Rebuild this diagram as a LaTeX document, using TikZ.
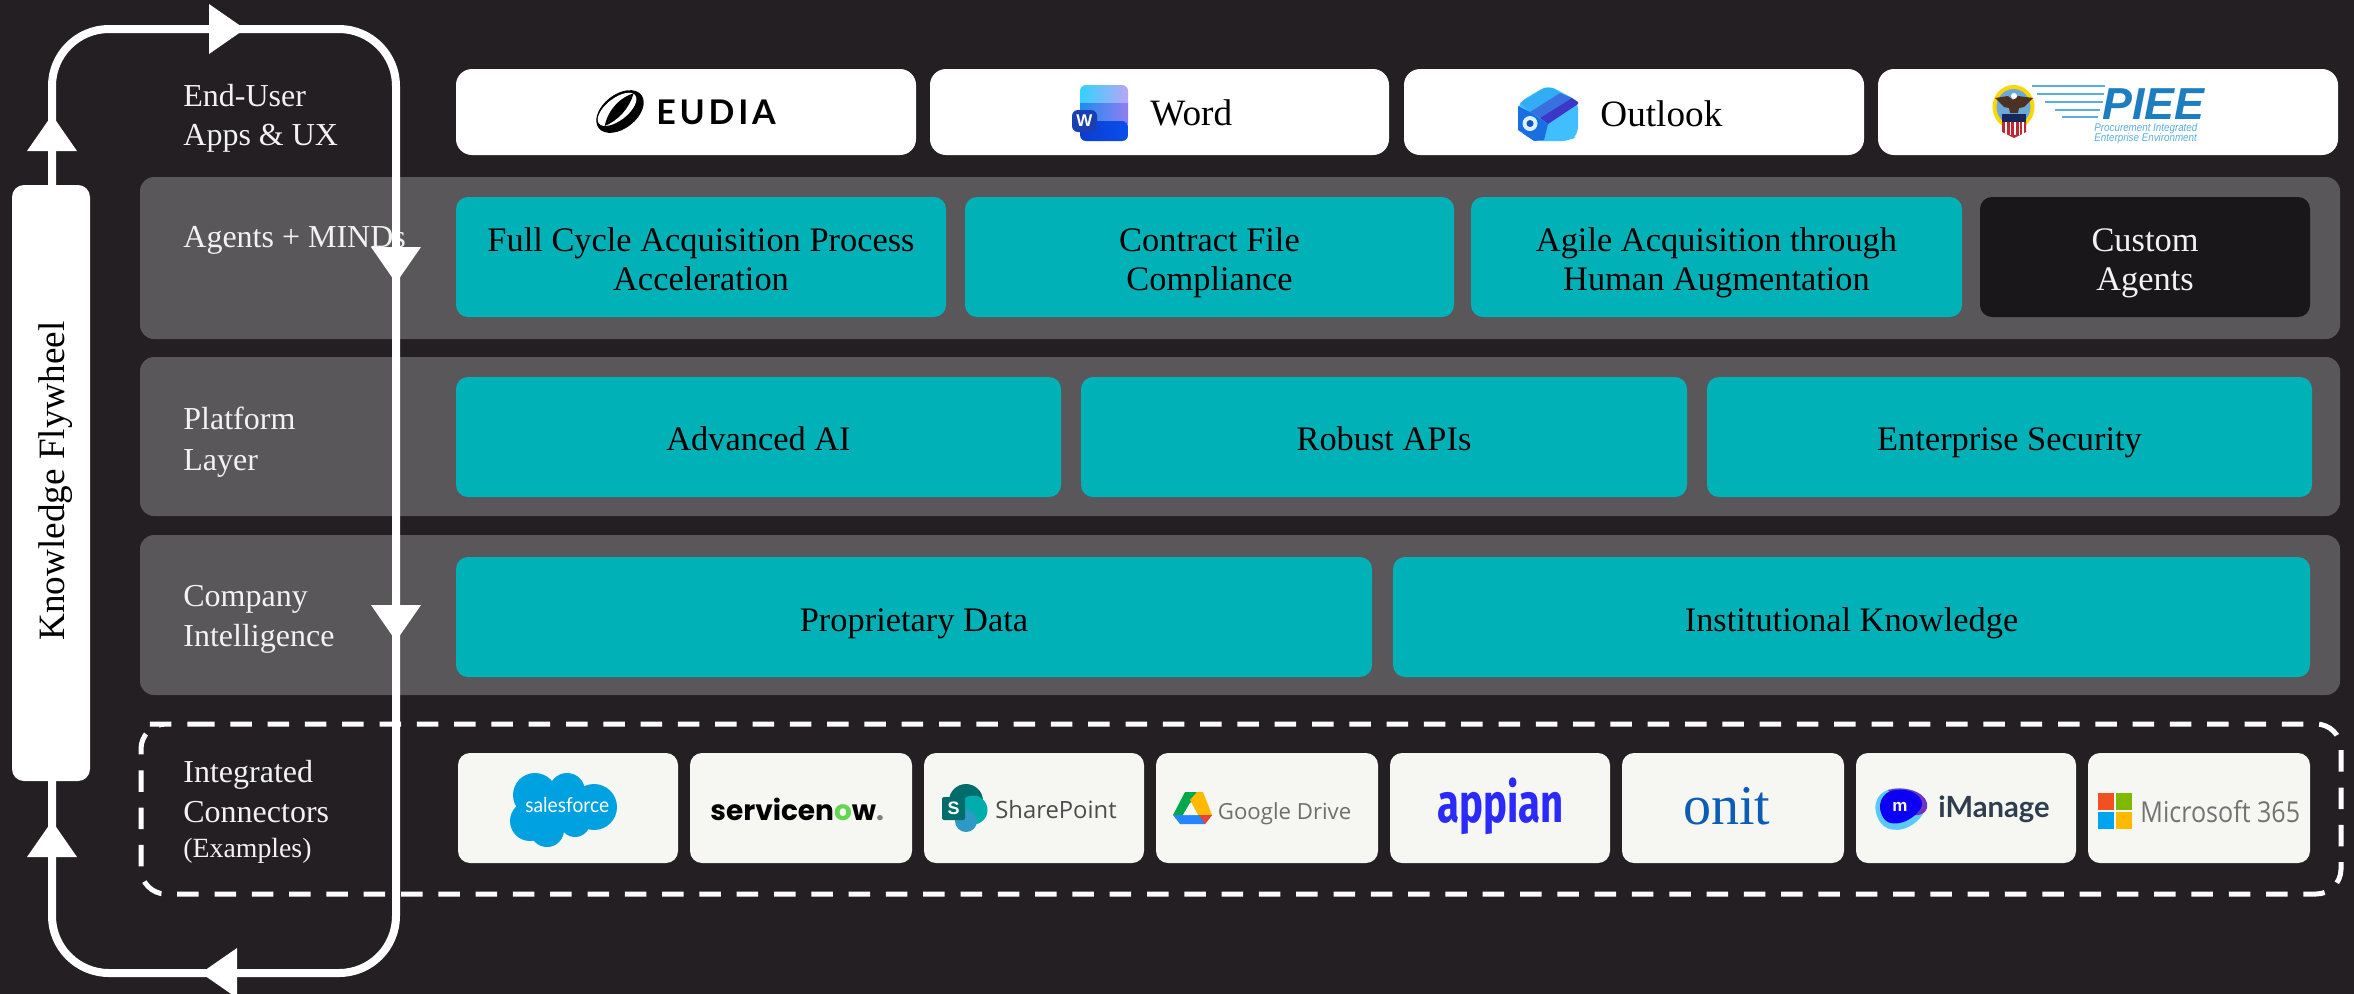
\documentclass[tikz,border=0pt]{standalone}
\usepackage{fontspec}
\setmainfont{Liberation Serif}
\newfontfamily\lsans{Liberation Sans}
\newfontfamily\pieesub[FakeStretch=.875]{Liberation Sans}
\newfontfamily\opensans{Open Sans}
\newfontfamily\msfont[FakeStretch=.87]{Open Sans}
\newfontfamily\lato{Lato}
\newfontfamily\sffont[FakeStretch=.93]{Lato}
\newfontfamily\poppins{Poppins}
\newfontfamily\appianfont[FakeStretch=.73]{Fira Sans}
\newfontfamily\eudiafont[LetterSpace=11]{Lato}
\definecolor{bgdark}{HTML}{231F22}
\definecolor{rowgray}{HTML}{59575A}
\definecolor{tealbox}{HTML}{00B2B8}
\definecolor{darkbox}{HTML}{1A171B}
\definecolor{lightbox}{HTML}{F6F7F3}
\definecolor{labelwhite}{HTML}{F2F2F2}
\definecolor{nowgreen}{HTML}{62D84E}
\definecolor{pieeblue}{HTML}{1C7DC0}
\definecolor{pieelight}{HTML}{5AAEDC}
\tikzset{
  rowbox/.style={fill=rowgray,rounded corners=7pt},
  tealcard/.style={fill=tealbox,rounded corners=6pt,text=black,font=\fontsize{17.2}{19.5}\selectfont},
  darkcard/.style={fill=darkbox,rounded corners=6pt,text=labelwhite,font=\fontsize{17.2}{19.5}\selectfont},
  appcard/.style={fill=white,rounded corners=8pt},
  conncard/.style={fill=lightbox,rounded corners=6pt},
  wheelbox/.style={fill=white,rounded corners=6pt},
  dashframe/.style={draw=white,line width=2.5pt,dash pattern=on 10.75pt off 7.9pt,rounded corners=12.5pt},
  sidelabel/.style={anchor=base west,inner sep=0,text=labelwhite,font=\fontsize{16}{19.6}\selectfont},
  applabel/.style={anchor=base west,inner sep=0,text=black,font=\fontsize{18.6}{20}\selectfont},
  logotext/.style={anchor=base west,inner sep=0},
  loopline/.style={draw=white,line width=4pt,rounded corners=28.5pt},
}
\newcommand{\bx}[7][]{%
  \pgfmathsetmacro{\bxw}{(#4-#2)*0.5}\pgfmathsetmacro{\bxh}{(#5-#3)*0.5}%
  \node[#6,shape=rectangle,inner sep=0,align=center,minimum width=\bxw pt,minimum height=\bxh pt,#1]
    (#7) at ({(#2+#4)/2},{(#3+#5)/2}) {\bxtext};}
\newcommand{\head}[3]{\fill[white,shift={(#1,#2)},rotate=#3] (0,0)--(-36,25)--(-36,-25)--cycle;}
\newcommand{\lone}[1]{\rule[-4pt]{0pt}{21pt}\smash{#1}}
\newcommand{\lonep}[1]{\rule[-4pt]{0pt}{22pt}\smash{#1}}
\newcommand{\ltwo}[1]{\rule[-3pt]{0pt}{19.5pt}\smash{#1}}
\begin{document}
\begin{tikzpicture}[x=0.5pt,y=-0.5pt]
\useasboundingbox (0,0) rectangle (2354,993);
\fill[bgdark] (-6,-6) rectangle (2360,1000);
\def\bxtext{}
% rows
\bx{140}{177}{2340}{339}{rowbox}{rowA}
\bx{140}{357}{2340}{516}{rowbox}{rowB}
\bx{140}{535}{2340}{695}{rowbox}{rowC}
\node[inner sep=0,minimum width=600pt,minimum height=85pt] (rowD) at (741,809) {};
\coordinate (dStart) at (168,724);
\coordinate (dNE) at (2341,724);
\coordinate (dSE) at (2341,894);
\coordinate (dSW) at (141,894);
\coordinate (dNW) at (141,724);
\draw[dashframe] (dStart) -- (dNE) -- (dSE) -- (dSW) -- (dNW) -- cycle;
% app cards
\bx{456}{69}{916}{155}{appcard}{appEudia}
\bx{930}{69}{1389}{155}{appcard}{appWord}
\bx{1404}{69}{1864}{155}{appcard}{appOutlook}
\bx{1878}{69}{2338}{155}{appcard}{appPiee}
% agent cards
\def\bxtext{\ltwo{Full Cycle Acquisition Process}\\\ltwo{Acceleration}}
\bx{456}{197}{946}{317}{tealcard}{cardA}
\def\bxtext{\ltwo{Contract File}\\\ltwo{Compliance}}
\bx{965}{197}{1454}{317}{tealcard}{cardB}
\def\bxtext{\ltwo{Agile Acquisition through}\\\ltwo{Human Augmentation}}
\bx{1471}{197}{1962}{317}{tealcard}{cardC}
\def\bxtext{\ltwo{Custom}\\\ltwo{Agents}}
\bx{1980}{197}{2310}{317}{darkcard}{cardD}
% platform
\def\bxtext{\lone{Advanced AI}}
\bx{456}{377}{1061}{497}{tealcard}{platA}
\def\bxtext{\lone{Robust APIs}}
\bx{1081}{377}{1687}{497}{tealcard}{platB}
\def\bxtext{\lone{Enterprise Security}}
\bx{1707}{377}{2312}{497}{tealcard}{platC}
% company
\def\bxtext{\lonep{Proprietary Data}}
\bx{456}{557}{1372}{677}{tealcard}{compA}
\def\bxtext{\lonep{Institutional Knowledge}}
\bx{1393}{557}{2310}{677}{tealcard}{compB}
% connector cards
\def\bxtext{}
\bx{458}{753}{678}{863}{conncard}{connA}
\bx{690}{753}{912}{863}{conncard}{connB}
\bx{924}{753}{1144}{863}{conncard}{connC}
\bx{1156}{753}{1378}{863}{conncard}{connD}
\bx{1390}{753}{1610}{863}{conncard}{connE}
\bx{1622}{753}{1844}{863}{conncard}{connF}
\bx{1856}{753}{2076}{863}{conncard}{connG}
\bx{2088}{753}{2310}{863}{conncard}{connH}
% side labels
\node[sidelabel] (lA1) at (183,106) {End-User};
\node[sidelabel] (lA2) at (183,145) {Apps \& UX};
\node[sidelabel] (lB) at (183,247) {Agents + MINDs};
\node[sidelabel] (lC1) at (183,429) {Platform};
\node[sidelabel] (lC2) at (183,470) {Layer};
\node[sidelabel] (lD1) at (183,606) {Company};
\node[sidelabel] (lD2) at (183,646) {Intelligence};
\node[sidelabel] (lE1) at (183,782) {Integrated};
\node[sidelabel] (lE2) at (183,822) {Connectors};
\node[sidelabel,font=\fontsize{13.9}{16}\selectfont] (lE3) at (183,857) {(Examples)};
% EUDIA logo
\begin{scope}[shift={(620,111.5)},rotate=38]
  \fill[black] (0,0) ellipse (27 and 17);
  \fill[white] (-1,-3.5) ellipse (23 and 11);
  \fill[black] (-21,2) .. controls (-8,-9) and (9,-11) .. (22,-6) .. controls (10,3) and (-7,6) .. (-21,2) -- cycle;
\end{scope}
\node[logotext,text=black,font=\eudiafont\bfseries\fontsize{17}{18}\selectfont] (tEudia) at (656,124) {EUDIA};
% Word
\shade[left color={rgb,255:red,50;green,210;blue,255},right color={rgb,255:red,185;green,165;blue,245},rounded corners=3pt] (1080,85) rectangle (1128,110);
\shade[left color={rgb,255:red,30;green,140;blue,240},right color={rgb,255:red,145;green,125;blue,240}] (1080,103) rectangle (1128,123);
\shade[left color={rgb,255:red,10;green,60;blue,210},right color={rgb,255:red,10;green,80;blue,235},rounded corners=3pt] (1080,121) rectangle (1128,141);
\fill[fill={rgb,255:red,26;green,63;blue,176},rounded corners=3pt] (1072,110) rectangle (1097,132);
\node[inner sep=0,text=white,font=\lsans\bfseries\fontsize{8.5}{10}\selectfont] (tWordW) at (1084.5,121) {W};
\node[applabel] (tWord) at (1150,125) {Word};
% Outlook
\fill[fill={rgb,255:red,64;green,190;blue,255},rounded corners=4pt] (1548,85) -- (1578,101) -- (1578,135) -- (1570,141) -- (1534,141) -- (1518,130) -- (1518,103) -- cycle;
\fill[fill={rgb,255:red,50;green,172;blue,245}] (1520,103) -- (1545,88) -- (1552,88) -- (1560,93) -- (1530,112) -- cycle;
\fill[fill={rgb,255:red,58;green,111;blue,224}] (1530,112) -- (1560,93) -- (1572,98) -- (1540,118) -- cycle;
\fill[fill={rgb,255:red,59;green,56;blue,200}] (1540,118) -- (1572,98) -- (1578,102) -- (1578,104) -- (1548,124) -- cycle;
\fill[fill={rgb,255:red,25;green,110;blue,225}] (1518,106) -- (1530,112) -- (1548,124) -- (1544,140) -- (1534,141) -- (1518,130) -- cycle;
\fill[white!85!cyan] (1530,123.5) circle (7.5);
\fill[fill={rgb,255:red,30;green,79;blue,192}] (1530,123.5) circle (3.5);
\node[applabel] (tOutlook) at (1600,126) {Outlook};
% PIEE
\fill[yellow!75!orange] (2013.5,107) ellipse (21 and 22);
\fill[fill={rgb,255:red,108;green,168;blue,216}] (2013.5,107) ellipse (17 and 18);
\fill[fill={rgb,255:red,75;green,50;blue,35}] (1995,98) -- (2008,96) -- (2013,100) -- (2018,96) -- (2033,98) -- (2024,107) -- (2019,108) -- (2018,113) -- (2010,113) -- (2009,108) -- (2004,107) -- cycle;
\fill[white] (2014,96) circle (3);
\fill[fill={rgb,255:red,20;green,40;blue,90}] (2002,114) rectangle (2026,122);
\fill[fill={rgb,255:red,190;green,40;blue,50}] (2002,122) -- (2026,122) -- (2026,132) -- (2014,138) -- (2002,132) -- cycle;
\foreach \sx in {2006,2010.5,2015,2019.5,2023}{\draw[white,line width=.7pt] (\sx,122) -- (\sx,135);}
\foreach \ly/\lx/\lxb in {86/2032/2105,94/2037/2104,102/2045/2103,110/2055/2100,117/2062/2098}{
  \draw[pieelight,line width=1.3pt] (\lx,\ly) -- (\lxb,\ly);}
\node[logotext,text=pieeblue,font=\lsans\bfseries\itshape\fontsize{22.4}{24}\selectfont] (tPiee) at (2102,119) {PIEE};
\node[logotext,text=pieelight,font=\pieesub\itshape\fontsize{5.6}{6}\selectfont] (tPieeA) at (2094,131) {Procurement Integrated};
\node[logotext,text=pieelight,font=\pieesub\itshape\fontsize{5.6}{6}\selectfont] (tPieeB) at (2094,141) {Enterprise Environment};
% salesforce
\begin{scope}[fill={rgb,255:red,0;green,161;blue,224}]
  \fill (535,795) circle (22); \fill (567,791) circle (18); \fill (594,807) circle (23);
  \fill (530,821) circle (20); \fill (547,830) circle (17); \fill (575,822) circle (15);
  \fill (530,795) rectangle (590,828);
\end{scope}
\node[logotext,text=white,font=\sffont\fontsize{10.3}{12}\selectfont] (tSf) at (525,812) {salesforce};
% servicenow
\node[logotext,text=black,font=\poppins\bfseries\fontsize{14}{15}\selectfont] (tSn) at (710,820) {servicen{\color{nowgreen}o}w{\color{black!50}.}};
% SharePoint
\fill[teal!85!black] (966,801) circle (17);
\fill[teal!65!cyan] (973,810) circle (14.5);
\fill[cyan!55!teal] (966,821) circle (11);
\fill[teal!85!black,rounded corners=1pt] (942,797) rectangle (965,820);
\node[inner sep=0,text=white,font=\lsans\bfseries\fontsize{9}{10}\selectfont] (tSpS) at (953.5,808.5) {S};
\node[logotext,text=black!70,font=\opensans\fontsize{11.9}{12}\selectfont] (tSp) at (995,818) {SharePoint};
% Google Drive
\fill[fill={rgb,255:red,0;green,168;blue,75}] (1185,792) -- (1197,792) -- (1183,815) -- (1173,815) -- cycle;
\fill[fill={rgb,255:red,255;green,186;blue,0}] (1197,792) -- (1203,792) -- (1212,815) -- (1198,815) -- (1190,800)-- cycle;
\fill[fill={rgb,255:red,38;green,132;blue,252}] (1173,815) -- (1180,824) -- (1205,824) -- (1212,815) -- (1198,815) -- (1183,815) -- cycle;
\fill[lightbox] (1183,815) -- (1190,803) -- (1198,815) -- cycle;
\fill[fill={rgb,255:red,234;green,67;blue,53}] (1212,815) -- (1205,824) -- (1199,815) -- cycle;
\node[logotext,text=black!57,font=\opensans\fontsize{11.1}{12}\selectfont] (tGd) at (1217.5,819) {Google Drive};
% appian
\node[logotext,text={rgb,255:red,42;green,42;blue,250},font=\appianfont\bfseries\fontsize{27.5}{29}\selectfont] (tAp) at (1437,822) {appian};
% onit
\node[logotext,text={rgb,255:red,11;green,92;blue,181},font=\fontsize{28}{29}\selectfont] (tOn) at (1683,824) {onit};
% iManage
\fill[cyan!65!white] (1900,788) .. controls (1876,788) and (1870,806) .. (1880,822) .. controls (1888,834) and (1908,832) .. (1920,818) .. controls (1930,806) and (1928,790) .. (1900,788) -- cycle;
\fill[violet!60!blue!80!white] (1888,790) .. controls (1910,785) and (1930,795) .. (1927,808) .. controls (1925,815) and (1915,818) .. (1905,812) -- cycle;
\fill[blue!90!violet] (1898,790) .. controls (1880,790) and (1875,808) .. (1885,820) .. controls (1893,828) and (1912,822) .. (1921,808) .. controls (1926,798) and (1912,788) .. (1898,790) -- cycle;
\node[inner sep=0,text=white,font=\lsans\bfseries\fontsize{8.5}{10}\selectfont] (tImM) at (1900,807) {m};
\node[logotext,text={rgb,255:red,47;green,62;blue,78},font=\lato\bfseries\fontsize{14.6}{15}\selectfont] (tIm) at (1938,817) {iManage};
% Microsoft
\fill[fill={rgb,255:red,242;green,80;blue,34}] (2098,793) rectangle (2113.5,810);
\fill[fill={rgb,255:red,127;green,186;blue,0}] (2116,793) rectangle (2132,810);
\fill[fill={rgb,255:red,0;green,164;blue,239}] (2098,812) rectangle (2113.5,829);
\fill[fill={rgb,255:red,255;green,185;blue,0}] (2116,812) rectangle (2132,829);
\node[logotext,text=black!55,font=\msfont\fontsize{14.4}{15}\selectfont] (tMs) at (2140,822) {Microsoft 365};
% flywheel loop
\coordinate (cTL) at (52,29);
\coordinate (cTR) at (396,29);
\coordinate (cBR) at (396,973);
\coordinate (cBL) at (52,973);
\draw[loopline] (cTL) -- (cTR) -- (cBR) -- (cBL) -- cycle;
\head{245}{29}{0}
\head{396}{283}{-90}
\head{396}{641}{-90}
\head{201}{973}{180}
\head{52}{821}{90}
\head{52}{115}{90}
\bx{12}{185}{90}{781}{wheelbox}{wheel}
\node[rotate=90,inner sep=0,text=black,font=\fontsize{18.6}{20}\selectfont] (tWheel) at (56,481) {Knowledge Flywheel};
\end{tikzpicture}
\end{document}
